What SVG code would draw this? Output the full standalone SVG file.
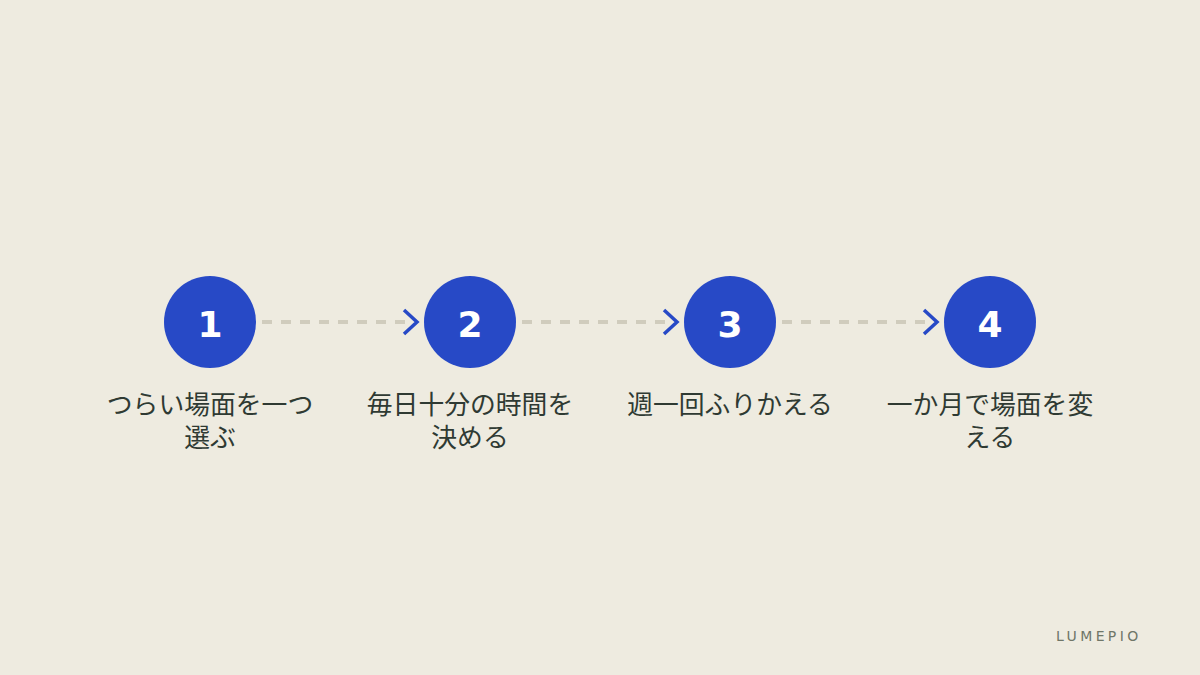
<svg xmlns="http://www.w3.org/2000/svg" width="1200" height="675" viewBox="0 0 1200 675">
<style>
.node circle{fill:#2749c6}
.num{font-family:"DejaVu Sans","Noto Sans",sans-serif;font-weight:bold;font-size:36px;fill:#ffffff;text-anchor:middle}
.lbl{font-family:"Noto Sans CJK JP","Noto Sans",sans-serif;font-size:25.8px;fill:#2f3a33;text-anchor:middle}
.dash{stroke:#d0ccbd;stroke-width:4;stroke-dasharray:10 9;fill:none}
.chev{stroke:#2749c6;stroke-width:3.5;fill:none;stroke-linecap:butt}
.brand{font-family:"DejaVu Sans","Liberation Sans",sans-serif;font-size:14px;fill:#6f7668;letter-spacing:3.4px}
</style>
<rect width="1200" height="675" fill="#eeebe0"/>
<g id="connectors">
<line class="dash" x1="262" y1="322" x2="414" y2="322"/>
<polyline class="chev" points="404,310 417,322 404,334"/>
<line class="dash" x1="522" y1="322" x2="674" y2="322"/>
<polyline class="chev" points="664,310 677,322 664,334"/>
<line class="dash" x1="782" y1="322" x2="934" y2="322"/>
<polyline class="chev" points="924,310 937,322 924,334"/>
</g>
<g id="node1" class="node">
<circle cx="210" cy="322" r="46"/>
<text class="num" x="210" y="337">1</text>
<text class="lbl" x="210" y="414">つらい場面を一つ</text>
<text class="lbl" x="210" y="447">選ぶ</text>
</g>
<g id="node2" class="node">
<circle cx="470" cy="322" r="46"/>
<text class="num" x="470" y="337">2</text>
<text class="lbl" x="470" y="414">毎日十分の時間を</text>
<text class="lbl" x="470" y="447">決める</text>
</g>
<g id="node3" class="node">
<circle cx="730" cy="322" r="46"/>
<text class="num" x="730" y="337">3</text>
<text class="lbl" x="730" y="414">週一回ふりかえる</text>
</g>
<g id="node4" class="node">
<circle cx="990" cy="322" r="46"/>
<text class="num" x="990" y="337">4</text>
<text class="lbl" x="990" y="414">一か月で場面を変</text>
<text class="lbl" x="990" y="447">える</text>
</g>
<text class="brand" x="1056" y="641">LUMEPIO</text>
</svg>
